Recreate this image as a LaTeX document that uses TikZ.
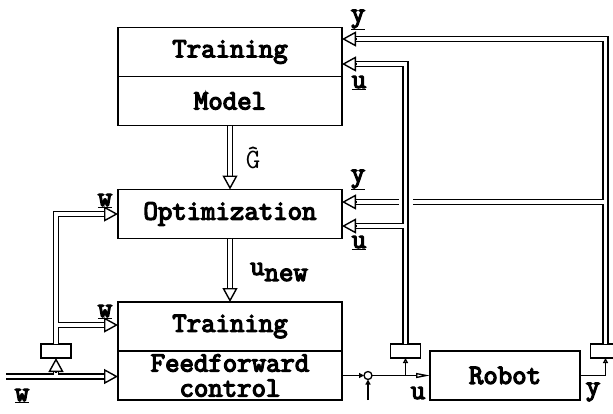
\documentclass[tikz,border=0pt]{standalone}
\usepackage{fontspec}
\setmonofont{Latin Modern Mono}[AutoFakeBold=4.5]
\usetikzlibrary{arrows.meta,positioning,calc}

\begin{document}
\begin{tikzpicture}[
  x=1pt, y=-1pt,
  font=\fontsize{28}{23}\selectfont\ttfamily\bfseries,
  blk/.style={draw, line width=1.4pt, outer sep=0pt, inner sep=0pt, minimum width=224pt, minimum height=49pt, align=center},
  hold/.style={draw, line width=1.4pt, outer sep=0pt, inner sep=0pt, minimum width=30pt, minimum height=14pt},
  sumpt/.style={draw, circle, line width=1.3pt, outer sep=0pt, inner sep=0pt, minimum size=8pt},
  bus/.style={draw=white, line width=3.6pt, preaction={draw=black, line width=6.6pt}},
  bigtip/.style={line width=1.4pt, -{Triangle[length=14pt, width=15pt, fill=white]}},
  sig/.style={line width=1.3pt},
  smalltip/.style={sig, -{Triangle[length=5pt, width=5pt, fill=white]}},
  dottip/.style={sig, -{Triangle[length=5pt, width=5pt]}},
  longtip/.style={sig, -{Triangle[length=14pt, width=5pt, fill=white]}},
  lbl/.style={inner sep=0pt}
]
  \useasboundingbox (0,0) rectangle (613,413);

  \node[blk] (train1) at (230,52) {Training};
  \node[blk, below=0pt of train1] (model) {Model};
  \node[blk] (opt) at (230,214) {Optimization};
  \node[blk] (train2) at (230,326.5) {Training};
  \node[blk, below=0pt of train2] (ffw) {Feedforward\\[2pt]control};
  \node[blk, minimum width=150pt] (robot) at (505,375.5) {Robot};

  \node[hold] (hw) at (56,351) {};
  \node[hold] (hu) at (405.5,351) {};
  \node[hold] (hy) at (605.5,351) {};
  \node[sumpt] (sum) at (368,375.5) {};

  \coordinate (win) at (6,376.5);
  \coordinate (wff) at ($(ffw.west)+(0,1)$);
  \coordinate (wtr) at ($(train2.west)+(0,-1.5)$);
  \coordinate (ytr) at ($(train1.east)+(0,-13)$);
  \coordinate (utr) at ($(train1.east)+(0,12)$);
  \coordinate (yopt) at ($(opt.east)+(0,-12)$);
  \coordinate (uopt) at ($(opt.east)+(0,12)$);

  \draw[bus] (model.south) -- ($(opt.north)+(0,-14)$);
  \draw[bigtip] ($(opt.north)+(0,-14)$) -- (opt.north);
  \draw[bus] (opt.south) -- ($(train2.north)+(0,-14)$);
  \draw[bigtip] ($(train2.north)+(0,-14)$) -- (train2.north);

  \draw[bus] (win) -- ($(wff)+(-14,0)$)
    (hw.south |- wff) -- ($(hw.south)+(0,14)$)
    (hw.north) |- ($(opt.west)+(-14,0)$)
    (hw.north |- wtr) -- ($(wtr)+(-14,0)$);
  \draw[bigtip] ($(wff)+(-14,0)$) -- (wff);
  \draw[bigtip] ($(hw.south)+(0,14)$) -- (hw.south);
  \draw[bigtip] ($(opt.west)+(-14,0)$) -- (opt.west);
  \draw[bigtip] ($(wtr)+(-14,0)$) -- (wtr);

  \draw[bus] (hy.north) |- ($(ytr)+(14,0)$)
    (hy.north |- yopt) -- ($(yopt)+(14,0)$);
  \draw[bigtip] ($(ytr)+(14,0)$) -- (ytr);
  \draw[bigtip] ($(yopt)+(14,0)$) -- (yopt);

  \fill[white] ($(yopt -| hu.north)+(-7,-5)$) rectangle ($(yopt -| hu.north)+(7,5)$);
  \draw[bus] (hu.north) |- ($(utr)+(14,0)$)
    (hu.north |- uopt) -- ($(uopt)+(14,0)$);
  \draw[bigtip] ($(utr)+(14,0)$) -- (utr);
  \draw[bigtip] ($(uopt)+(14,0)$) -- (uopt);

  \draw[dottip] (ffw.east) -- (sum.west);
  \draw[dottip] (sum |- ffw.south) -- (sum.south);
  \draw[longtip] (sum.east) -- (robot.west);
  \draw[smalltip] (hu.south |- robot.west) -- (hu.south);
  \draw[smalltip] (robot.east) -| (hy.south);

  \node[lbl] (ly1) at (358,20) {\underline{y}};
  \node[lbl] (lu1) at (359,83) {\underline{u}};
  \node[lbl] (ly2) at (358,180) {\underline{y}};
  \node[lbl] (lu2) at (359,243) {\underline{u}};
  \node[lbl] (lw1) at (105,201) {\underline{w}};
  \node[lbl] (lw2) at (105,312) {\underline{w}};
  \node[lbl] (lw3) at (22,396) {\underline{w}};
  \node[lbl] (lg) at (253,158) {\mdseries\^{G}};
  \node[lbl] (lnew) at (279,272) {u\raisebox{-6pt}{new}};
  \node[lbl] (lu) at (418,393) {u};
  \node[lbl] (ly) at (593,392) {y};
\end{tikzpicture}
\end{document}
